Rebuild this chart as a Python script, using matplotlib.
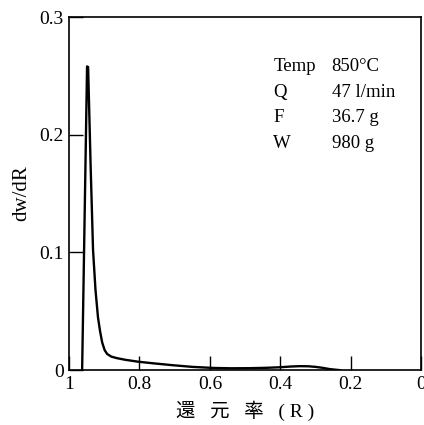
import matplotlib.pyplot as plt

plt.rcParams['font.family'] = ['Liberation Serif', 'Noto Sans CJK JP', 'DejaVu Sans']

# reduction rate R and dw/dR
R = [0.963, 0.949, 0.946, 0.939, 0.932, 0.925, 0.918, 0.912, 0.906, 0.899, 0.892,
     0.880, 0.864, 0.840, 0.804, 0.760, 0.705, 0.650, 0.591, 0.540, 0.486, 0.440,
     0.40, 0.370, 0.344, 0.320, 0.30, 0.280, 0.259, 0.23]
dwdR = [0.0, 0.258, 0.2575, 0.175, 0.102, 0.068, 0.045, 0.033, 0.0235, 0.017, 0.0138,
        0.0115, 0.0102, 0.0088, 0.0072, 0.0058, 0.0042, 0.0028, 0.0019, 0.0016, 0.0017,
        0.0020, 0.0025, 0.0031, 0.0034, 0.0033, 0.0028, 0.0020, 0.0009, 0.0]

xticks = [1, 0.8, 0.6, 0.4, 0.2, 0]
xticklabels = ["1", "0.8", "0.6", "0.4", "0.2", "0"]
yticks = [0, 0.1, 0.2, 0.3]
yticklabels = ["0", "0.1", "0.2", "0.3"]

cond_names = ["Temp", "Q", "F", "W"]
cond_values = ["850\u00b0C", "47 l/min", "36.7 g", "980 g"]

fig = plt.figure(figsize=(4.24, 4.25), dpi=100)
ax = fig.add_axes([0.163, 0.129, 0.830, 0.831])

ax.plot(R, dwdR, color="black", lw=1.7)
ax.set_xlim(1, 0)
ax.set_ylim(0, 0.3)

ax.set_xticks(xticks)
ax.set_xticklabels(xticklabels, fontsize=14)
ax.set_yticks(yticks)
ax.set_yticklabels(yticklabels, fontsize=14)
ax.tick_params(direction="in", length=10, width=1, pad=4)
for s in ax.spines.values():
    s.set_linewidth(1.2)

ax.set_ylabel("dw/dR", fontsize=15, labelpad=6)
ax.set_xlabel("還   元   率   ( R )", fontsize=14, labelpad=6)

# condition table in upper right
for i, (n, v) in enumerate(zip(cond_names, cond_values)):
    yy = 0.258 - i * 0.0218
    ax.text(0.42, yy, n, fontsize=13.5, va="center", ha="left")
    ax.text(0.254, yy, v, fontsize=13.5, va="center", ha="left")

fig.savefig("out.png", dpi=100)
